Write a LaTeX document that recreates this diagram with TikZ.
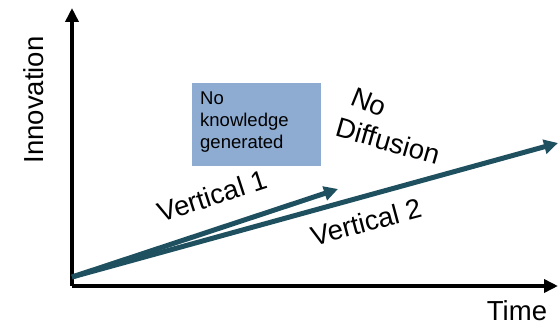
\documentclass[tikz,border=0pt]{standalone}
\usepackage{fontspec}
\setmainfont{Liberation Sans}
\usepackage{xcolor}
\usetikzlibrary{arrows.meta}
\definecolor{arrowteal}{RGB}{31,80,96}
\definecolor{boxblue}{RGB}{142,172,210}

\begin{document}
\begin{tikzpicture}[x=1pt,y=-1pt]
		\tikzset{axis/.style = {line width=4pt, -{Triangle[length=14pt,width=13pt]}}}
		\tikzset{growth/.style = {line width=5pt, color=arrowteal, -{Triangle[length=14pt,width=14pt]}}}
		\tikzset{biglabel/.style = {inner sep=0pt, font=\fontsize{27.5}{31}\selectfont}}
		\useasboundingbox (0,0) rectangle (558,326);

		\coordinate (O) at (72,286);
		\coordinate (ytip) at (72,8);
		\coordinate (xtip) at (558,286);
		\coordinate (start) at (72,277);
		\coordinate (v1tip) at (338,189);
		\coordinate (v2tip) at (558,143);

		\draw[axis] (O) -- (ytip);
		\draw[axis] (O) -- (xtip);

		\draw[growth] (start) -- (v1tip);
		\draw[growth] (start) -- (v2tip);

		\node[biglabel, rotate=90] (innov) at (34,100) {Innovation};
		\node[biglabel] (time) at (517,311) {Time};
		\node[biglabel, rotate=18] (vert1) at (212,196) {Vertical 1};
		\node[biglabel, rotate=15] (vert2) at (366,222) {Vertical 2};
		\node[biglabel, rotate=-22] (nodiff1) at (369,102) {No};
		\node[biglabel, rotate=-16] (nodiff2) at (388,141) {Diffusion};

		\node[fill=boxblue, minimum width=129pt, minimum height=83pt, inner sep=0pt] (box) at (256.5,125) {};
		\node[anchor=north west, align=left, inner sep=0pt, font=\fontsize{18.5}{22}\selectfont] (boxtext) at (200,92) {No\\knowledge\\generated};
	\end{tikzpicture}
\end{document}
